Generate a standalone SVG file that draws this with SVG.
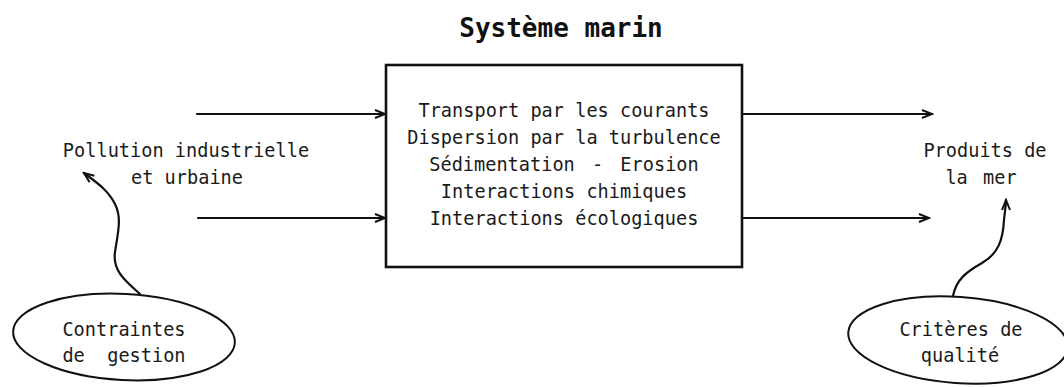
<svg xmlns="http://www.w3.org/2000/svg" width="1064" height="387" viewBox="0 0 1064 387">
<style>
.t{font-family:"DejaVu Sans Mono","Liberation Mono",monospace;font-size:18.6px;fill:#1a1a1a;text-anchor:middle;white-space:pre}
.title{font-family:"DejaVu Sans Mono","Liberation Mono",monospace;font-size:26px;font-weight:bold;fill:#111;text-anchor:middle}
.ln{fill:none;stroke:#111;stroke-width:2.2;stroke-linecap:round}
.bx{fill:#fff;stroke:#111;stroke-width:2.6}
.el{fill:#fff;stroke:#111;stroke-width:2}
</style>
<defs>
<marker id="ah" viewBox="-12 -6 14 12" markerWidth="14" markerHeight="12" refX="0" refY="0" orient="auto" markerUnits="userSpaceOnUse">
<path d="M-10,-4 L0,0 L-10,4" fill="none" stroke="#111" stroke-width="2"/>
</marker>
</defs>
<text class="title" x="561" y="37">Système marin</text>
<g id="connectors">
<path class="ln" d="M197,114 L385,114" marker-end="url(#ah)"/>
<path class="ln" d="M198,218 L385,218" marker-end="url(#ah)"/>
<path class="ln" d="M742,114 L932,114" marker-end="url(#ah)"/>
<path class="ln" d="M742,218 L929,218" marker-end="url(#ah)"/>
<path class="ln" d="M140,294 C128,283 112,272 115,252 C118,232 122,218 115,204 C108,190 96,182 84,173" marker-end="url(#ah)"/>
<path class="ln" d="M953,296 C956,280 966,272 982,263 C998,254 1003,240 1004,220 C1005,210 1006,205 1006,200" marker-end="url(#ah)"/>
</g>
<g id="systeme">
<rect class="bx" x="386" y="65" width="356" height="202"/>
<text class="t" x="564" y="117">Transport par les courants</text>
<text class="t" x="564" y="144">Dispersion par la turbulence</text>
<text class="t" x="564" y="171" word-spacing="6">Sédimentation - Erosion</text>
<text class="t" x="564" y="198">Interactions chimiques</text>
<text class="t" x="564" y="225">Interactions écologiques</text>
</g>
<g id="pollution">
<text class="t" x="186" y="157">Pollution industrielle</text>
<text class="t" x="187" y="184">et urbaine</text>
</g>
<g id="produits">
<text class="t" x="985" y="157">Produits de</text>
<text class="t" x="981" y="184" word-spacing="4">la mer</text>
</g>
<g id="contraintes">
<ellipse class="el" cx="124" cy="337" rx="111" ry="43" transform="rotate(3 124 337)"/>
<text class="t" x="124" y="336">Contraintes</text>
<text class="t" x="124" y="362">de  gestion</text>
</g>
<g id="criteres">
<ellipse class="el" cx="958" cy="340" rx="110" ry="43" transform="rotate(4 958 340)"/>
<text class="t" x="961" y="336">Critères de</text>
<text class="t" x="960" y="362">qualité</text>
</g>
</svg>
